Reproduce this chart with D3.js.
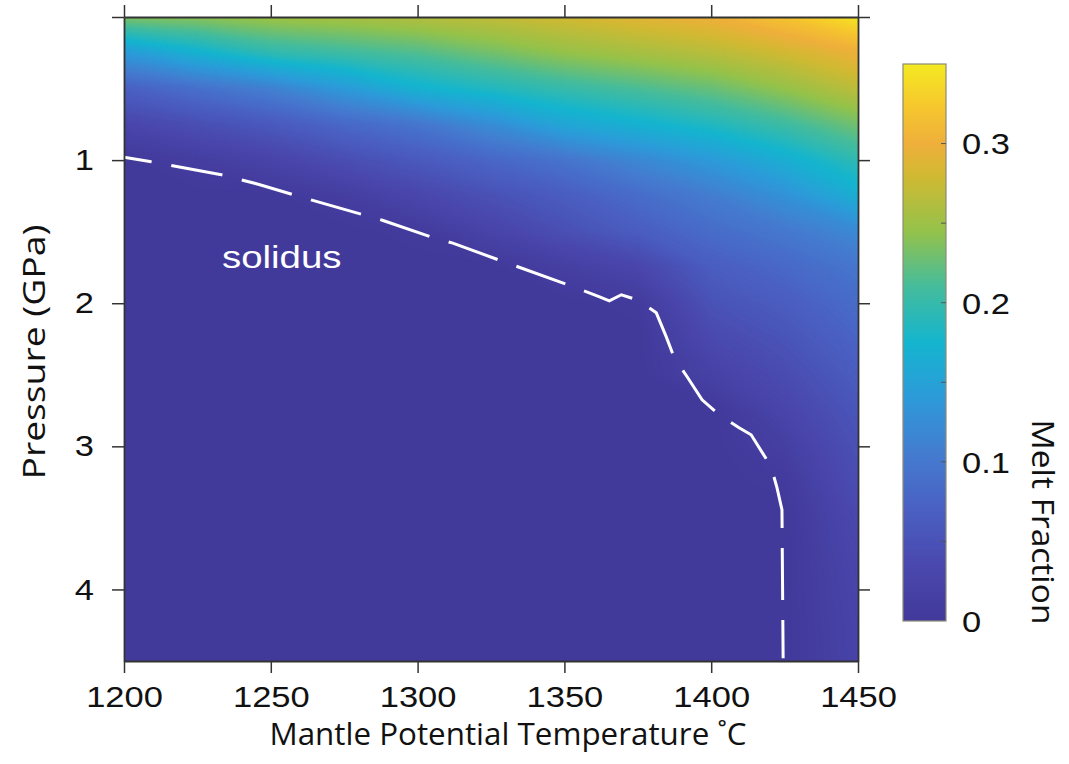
<!DOCTYPE html>
<html>
  <head>
    <meta charset="utf-8">
    <script type="text/javascript" src="https://cdn.jsdelivr.net/npm/d3@7"></script>
    <style>
      body { margin: 0; background: #fff; }
      .tick line { stroke: #333; stroke-width: 1.5; }
      .domain { stroke: #333; stroke-width: 1.8; }
    </style>
  </head>
  <body>
    <div id="viz"></div>
    <script type="text/javascript">
      // grid of melt fraction, rows = pressure, columns = temperature
      const temps = [1200, 1225, 1250, 1275, 1300, 1325, 1350, 1375, 1400, 1425, 1450];
      const pressures = [0, 0.25, 0.5, 0.75, 1, 1.25, 1.5, 1.75, 2, 2.25, 2.5, 2.75, 3, 3.25, 3.5, 3.75, 4, 4.25, 4.5];
      const melt = [
        [0.235, 0.24, 0.25, 0.255, 0.262, 0.27, 0.28, 0.29, 0.30, 0.32, 0.345],
        [0.14, 0.17, 0.195, 0.205, 0.215, 0.23, 0.245, 0.255, 0.265, 0.28, 0.298],
        [0.07, 0.09, 0.11, 0.14, 0.17, 0.185, 0.20, 0.212, 0.225, 0.245, 0.268],
        [0.03, 0.045, 0.06, 0.08, 0.097, 0.125, 0.155, 0.17, 0.185, 0.205, 0.23],
        [0, 0.012, 0.025, 0.043, 0.06, 0.078, 0.095, 0.118, 0.14, 0.165, 0.195],
        [0, 0, 0, 0.012, 0.03, 0.048, 0.065, 0.085, 0.105, 0.13, 0.165],
        [0, 0, 0, 0, 0.005, 0.025, 0.045, 0.065, 0.085, 0.10, 0.12],
        [0, 0, 0, 0, 0, 0, 0.015, 0.03, 0.065, 0.08, 0.097],
        [0, 0, 0, 0, 0, 0, 0, 0.005, 0.05, 0.065, 0.085],
        [0, 0, 0, 0, 0, 0, 0, 0, 0.035, 0.052, 0.075],
        [0, 0, 0, 0, 0, 0, 0, 0, 0.02, 0.04, 0.065],
        [0, 0, 0, 0, 0, 0, 0, 0, 0, 0.028, 0.055],
        [0, 0, 0, 0, 0, 0, 0, 0, 0, 0.015, 0.048],
        [0, 0, 0, 0, 0, 0, 0, 0, 0, 0.005, 0.043],
        [0, 0, 0, 0, 0, 0, 0, 0, 0, 0, 0.035],
        [0, 0, 0, 0, 0, 0, 0, 0, 0, 0, 0.03],
        [0, 0, 0, 0, 0, 0, 0, 0, 0, 0, 0.027],
        [0, 0, 0, 0, 0, 0, 0, 0, 0, 0, 0.025],
        [0, 0, 0, 0, 0, 0, 0, 0, 0, 0, 0.024]
      ];

      // solidus trace (dashed white line)
      const solidusT = [1200, 1208.8, 1232.7, 1246, 1264, 1288, 1305, 1312, 1328, 1351, 1362, 1365.3, 1369.4, 1374.8, 1381.3, 1384.7, 1387.4, 1391.8, 1396.9, 1402.7, 1409.5, 1413.6, 1420.4, 1422.4, 1424.1, 1424.5];
      const solidusP = [0.98, 1.01, 1.10, 1.17, 1.28, 1.42, 1.54, 1.58, 1.70, 1.87, 1.955, 1.983, 1.941, 1.976, 2.067, 2.235, 2.381, 2.514, 2.675, 2.779, 2.870, 2.919, 3.142, 3.289, 3.443, 4.48];

      const xTicks = [1200, 1250, 1300, 1350, 1400, 1450];
      const yTicks = [0, 1, 2, 3, 4];
      const cbTicks = [0, 0.1, 0.2, 0.3];
      const cbMinor = [0.05, 0.15, 0.25];

      // parula-like colormap as it appears in the figure
      const cmapStops = [0, 0.035, 0.07, 0.105, 0.14, 0.175, 0.21, 0.245, 0.28, 0.3, 0.325, 0.35];
      const cmapColors = ["#42399a", "#4a48ae", "#4a60c2", "#447cd0", "#2d9ad9", "#14b5cf", "#45bc9c", "#94c24a", "#d1b932", "#efaf3b", "#f6c92d", "#f4ea22"];

      const width = 1069, height = 764;
      const plot = {left: 124, right: 858, top: 17, bottom: 661};
      const sx = 1.15; // figure text is stretched horizontally

      const svg = d3.select("#viz").append("svg")
        .attr("width", width)
        .attr("height", height);

      const x = d3.scaleLinear().domain([1200, 1450]).range([plot.left, plot.right]);
      const y = d3.scaleLinear().domain([0, 4.5]).range([plot.top, plot.bottom]);
      const color = d3.scaleLinear().domain(cmapStops).range(cmapColors)
        .interpolate(d3.interpolateRgb).clamp(true);

      svg.append("clipPath").attr("id", "plotclip")
        .append("rect")
        .attr("x", plot.left).attr("y", plot.top)
        .attr("width", plot.right - plot.left).attr("height", plot.bottom - plot.top);

      // heat map via filled contours of the grid
      const nT = temps.length, nP = pressures.length;
      const values = melt.flat();
      const step = 0.0025;
      const bands = d3.contours()
        .size([nT, nP])
        .thresholds(d3.range(0, 0.35, step))(values);

      const gx = d3.scaleLinear().domain([0.5, nT - 0.5]).range([temps[0], temps[nT - 1]]);
      const gy = d3.scaleLinear().domain([0.5, nP - 0.5]).range([pressures[0], pressures[nP - 1]]);
      const path = d3.geoPath(d3.geoTransform({
        point: function(px, py) { this.stream.point(x(gx(px)), y(gy(py))); }
      }));

      svg.append("g")
        .attr("clip-path", "url(#plotclip)")
        .selectAll("path")
        .data(bands)
        .enter()
        .append("path")
        .attr("d", path)
        .attr("fill", d => color(d.value + step / 2))
        .attr("stroke", d => color(d.value + step / 2))
        .attr("stroke-width", 0.6);

      // solidus
      const line = d3.line().x(d => x(d[0])).y(d => y(d[1]));
      svg.append("path")
        .datum(d3.zip(solidusT, solidusP))
        .attr("d", line)
        .attr("fill", "none")
        .attr("stroke", "#fff")
        .attr("stroke-width", 3)
        .attr("stroke-dasharray", "52,20")
        .attr("stroke-dashoffset", 24);

      svg.append("text")
        .attr("transform", "translate(222,268) scale(1.2,1)")
        .attr("font-family", "Liberation Sans, Arial, sans-serif")
        .attr("font-size", 32)
        .attr("fill", "#fff")
        .text("solidus");

      // axes
      const tickFont = "Liberation Sans, Arial, sans-serif";
      const axBottom = svg.append("g")
        .attr("transform", "translate(0," + plot.bottom + ")")
        .call(d3.axisBottom(x).tickValues(xTicks).tickSize(12).tickSizeOuter(0).tickPadding(13).tickFormat(d3.format("d")));
      svg.append("g")
        .attr("transform", "translate(0," + plot.top + ")")
        .call(d3.axisTop(x).tickValues(xTicks).tickSize(12).tickSizeOuter(0).tickFormat(""));
      const axLeft = svg.append("g")
        .attr("transform", "translate(" + plot.left + ",0)")
        .call(d3.axisLeft(y).tickValues(yTicks).tickSize(12).tickSizeOuter(0).tickPadding(18)
          .tickFormat(d => d === 0 ? "" : d));
      svg.append("g")
        .attr("transform", "translate(" + plot.right + ",0)")
        .call(d3.axisRight(y).tickValues(yTicks).tickSize(12).tickSizeOuter(0).tickFormat(""));

      [axBottom, axLeft].forEach(g => {
        g.selectAll("text")
          .attr("font-family", tickFont)
          .attr("font-size", 30)
          .attr("fill", "#111");
      });
      axBottom.selectAll("text").attr("transform", "scale(" + sx + ",1)");
      axLeft.selectAll("text")
        .attr("x", -30 / sx)
        .attr("transform", "scale(" + sx + ",1)");

      // axis titles
      svg.append("text")
        .attr("x", 508).attr("y", 745)
        .attr("text-anchor", "middle")
        .attr("font-family", "Open Sans, sans-serif")
        .attr("font-size", 31)
        .attr("textLength", 477)
        .attr("lengthAdjust", "spacingAndGlyphs")
        .attr("fill", "#111")
        .text("Mantle Potential Temperature ˚C");

      svg.append("text")
        .attr("transform", "translate(45,352) rotate(-90)")
        .attr("text-anchor", "middle")
        .attr("font-family", "Open Sans, sans-serif")
        .attr("font-size", 31)
        .attr("textLength", 255)
        .attr("lengthAdjust", "spacingAndGlyphs")
        .attr("fill", "#111")
        .text("Pressure (GPa)");

      // colorbar
      const cb = {x: 903, w: 43};
      const cy = d3.scaleLinear().domain([0, 0.35]).range([621, 64]);
      const grad = svg.append("defs").append("linearGradient")
        .attr("id", "cbgrad")
        .attr("x1", 0).attr("y1", 1).attr("x2", 0).attr("y2", 0);
      grad.selectAll("stop")
        .data(d3.range(0, 0.3501, 0.005))
        .enter()
        .append("stop")
        .attr("offset", d => d / 0.35)
        .attr("stop-color", d => color(d));

      svg.append("rect")
        .attr("x", cb.x).attr("y", cy(0.35))
        .attr("width", cb.w).attr("height", cy(0) - cy(0.35))
        .attr("fill", "url(#cbgrad)")
        .attr("stroke", "#8c8a78")
        .attr("stroke-width", 1.2);

      svg.append("g")
        .selectAll("line")
        .data(cbTicks.concat(cbMinor).filter(d => d > 0))
        .enter()
        .append("line")
        .attr("x1", cb.x + cb.w - 5).attr("x2", cb.x + cb.w)
        .attr("y1", d => cy(d)).attr("y2", d => cy(d))
        .attr("stroke", "#555")
        .attr("stroke-width", 1);

      svg.append("g")
        .selectAll("text")
        .data(cbTicks)
        .enter()
        .append("text")
        .attr("transform", d => "translate(962," + cy(d) + ") scale(" + sx + ",1)")
        .attr("dy", "0.36em")
        .attr("font-family", tickFont)
        .attr("font-size", 30)
        .attr("fill", "#111")
        .text(d => d === 0 ? "0" : d);

      svg.append("text")
        .attr("transform", "translate(1032,522) rotate(90)")
        .attr("text-anchor", "middle")
        .attr("font-family", "Open Sans, sans-serif")
        .attr("font-size", 31)
        .attr("textLength", 205)
        .attr("lengthAdjust", "spacingAndGlyphs")
        .attr("fill", "#111")
        .text("Melt Fraction");
    </script>
  </body>
</html>
